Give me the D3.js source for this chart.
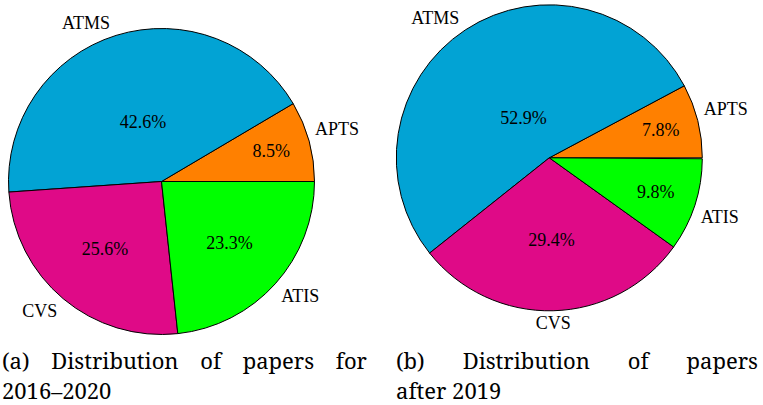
<!DOCTYPE html>
<html>
<head>
<meta charset="utf-8">
<script src="https://cdn.jsdelivr.net/npm/d3@7"></script>
</head>
<body style="margin:0">
<svg id="chart" width="763" height="405"></svg>
<script>
// ---------------- data ----------------
const categories = ["APTS", "ATMS", "CVS", "ATIS"];
const values2016to2020 = [8.5, 42.6, 25.6, 23.3];
const valuesAfter2019 = [7.8, 52.9, 29.4, 9.8];
const captionA = ["(a) Distribution of papers for", "2016\u20132020"];
const captionB = ["(b) Distribution of papers", "after 2019"];

// ---------------- styles ----------------
const palette = d3.scaleOrdinal()
  .domain(categories)
  .range(["#FF8000", "#02A3D4", "#DF0A87", "#00FF00"]);

const svg = d3.select("#chart");

const R = 153;
const labelFont = 18;
const innerSep = 6;
const capH = 12;

// percentage (0..100) -> d3 angle (clockwise from 12 o'clock); pgf-pie goes CCW from east
const angleScale = d3.scaleLinear().domain([0, 100]).range([Math.PI / 2, Math.PI / 2 - 2 * Math.PI]);
const arc = d3.arc().innerRadius(0).outerRadius(R);

function addText(parent, str, x, y, size, anchor, family) {
  const t = parent.append("text")
    .attr("x", x).attr("y", y)
    .attr("font-family", family || "Liberation Serif")
    .attr("font-size", size);
  if (anchor) t.attr("text-anchor", anchor);
  return t.text(str);
}

function drawPie(values, cx, cy) {
  const g = svg.append("g").attr("transform", `translate(${cx},${cy})`);
  let cum = 0;
  const slices = values.map((v, i) => {
    const s = { cat: categories[i], value: v, c0: cum, c1: cum + v };
    cum += v;
    return s;
  });

  g.selectAll("path.slice")
    .data(slices)
    .join("path")
    .attr("class", "slice")
    .attr("d", d => arc({ startAngle: angleScale(d.c1), endAngle: angleScale(d.c0) }))
    .attr("fill", d => palette(d.cat))
    .attr("stroke", "#000")
    .attr("stroke-width", 1)
    .attr("stroke-linejoin", "round");

  slices.forEach(d => {
    const spanDeg = d.value * 3.6;
    const midDeg = (d.c0 + d.c1) / 2 * 3.6;
    const mid = midDeg * Math.PI / 180;
    // number placement (pgf-pie rule)
    let f = Math.min((spanDeg - 10) / 110 * (-0.3), 0);
    f = Math.max(f, -0.5) + 0.8;
    const nx = f * R * Math.cos(mid);
    const ny = -f * R * Math.sin(mid);
    addText(g, d.value.toFixed(1) + "%", nx, ny + 6, labelFont, "middle");

    // outer label, TikZ compass anchor at border point
    const px = R * Math.cos(mid);
    const py = -R * Math.sin(mid);
    let anchor, x, y;
    const a = midDeg;
    if (a < 2 || a >= 358) { anchor = "start"; x = px + innerSep; y = py + capH / 2; }
    else if (a < 88) { anchor = "start"; x = px + innerSep; y = py - innerSep; }
    else if (a < 92) { anchor = "middle"; x = px; y = py - innerSep; }
    else if (a < 178) { anchor = "end"; x = px - innerSep; y = py - innerSep; }
    else if (a < 182) { anchor = "end"; x = px - innerSep; y = py + capH / 2; }
    else if (a < 268) { anchor = "middle"; x = px; y = py + innerSep + capH; }
    else if (a < 272) { anchor = "middle"; x = px; y = py + innerSep + capH; }
    else { anchor = "start"; x = px + innerSep; y = py + innerSep + capH; }
    if (a >= 182 && a < 268) anchor = "end", x = px - innerSep;
    addText(g, d.cat, x, y, labelFont, anchor);
  });
}

drawPie(values2016to2020, 161.5, 181.5);
drawPie(valuesAfter2019, 549.3, 157.8);

// ---------------- captions (justified first line) ----------------
const capFont = 22;
const capFamily = "Noto Serif";
function drawCaption(lines, x0, x1, y1, y2) {
  const words = lines[0].split(" ");
  const tmp = words.map(w => addText(svg, w, 0, -50, capFont, null, capFamily));
  const widths = tmp.map(t => t.node().getComputedTextLength());
  tmp.forEach(t => t.remove());
  const total = d3.sum(widths);
  const gap = (x1 - x0 - total) / (words.length - 1);
  let x = x0;
  words.forEach((w, i) => {
    addText(svg, w, x, y1, capFont, null, capFamily);
    x += widths[i] + gap;
  });
  addText(svg, lines[1], x0, y2, capFont, null, capFamily);
}
drawCaption(captionA, 2, 367, 369, 399);
drawCaption(captionB, 396, 758, 369, 399);
</script>
</body>
</html>
